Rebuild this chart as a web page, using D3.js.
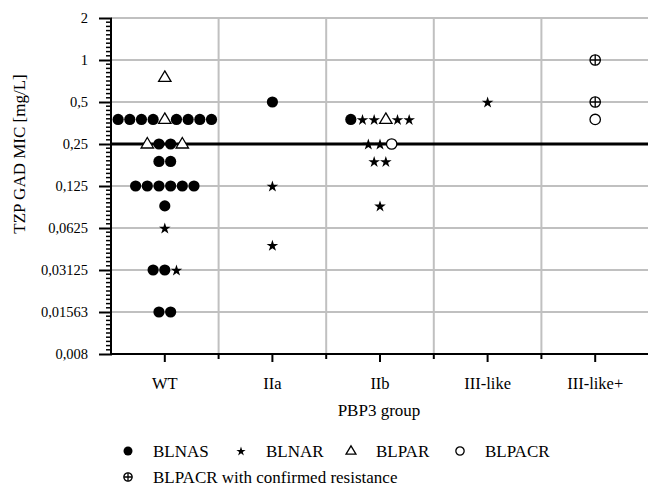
<!DOCTYPE html>
<html>
<head>
<meta charset="utf-8">
<script src="https://cdnjs.cloudflare.com/ajax/libs/d3/7.8.5/d3.min.js"></script>
<style>
  body { margin: 0; background: #fff; }
</style>
</head>
<body>
<div id="chart"></div>
<script>
// PBP3 groups on the x axis
var groups = ["WT", "IIa", "IIb", "III-like", "III-like+"];

// y axis ticks (log2)
var yTickValues = [1/128, 1/64, 1/32, 1/16, 1/8, 1/4, 1/2, 1, 2];
var yTickLabels = ["0,008", "0,01563", "0,03125", "0,0625", "0,125", "0,25", "0,5", "1", "2"];

// breakpoint line
var breakpoint = 0.25;

// each row: group, MIC value, markers side by side (left to right)
// C = BLNAS, S = BLNAR, T = BLPAR, O = BLPACR, X = BLPACR with confirmed resistance
var rowGroup = ["WT", "WT", "WT", "WT", "WT", "WT", "WT", "WT", "WT",
                "IIa", "IIa", "IIa",
                "IIb", "IIb", "IIb", "IIb",
                "III-like",
                "III-like+", "III-like+", "III-like+"];
var rowMic = [0.75, 0.375, 0.25, 0.1875, 0.125, 0.09, 0.0625, 0.03125, 0.015625,
              0.5, 0.125, 0.047,
              0.375, 0.25, 0.1875, 0.09,
              0.5,
              1, 0.5, 0.375];
var rowMarkers = ["T", "CCCCTCCCC", "TCCT", "CC", "CCCCCC", "C", "S", "CCS", "CC",
                  "C", "S", "S",
                  "CSSTSS", "SSO", "SS", "S",
                  "S",
                  "X", "X", "O"];

var legendCodes = ["C", "S", "T", "O", "X"];
var legendNames = ["BLNAS", "BLNAR", "BLPAR", "BLPACR", "BLPACR with confirmed resistance"];

var FONT = "'Liberation Serif', 'Times New Roman', Times, 'DejaVu Serif', serif";

function main() {
    var width = 648, height = 489;
    var left = 111, right = 649, top = 18, bottom = 354;
    var step = 11.67;

    var svg = d3.select("#chart").append("svg").attr("width", width).attr("height", height)
        .style("font-family", FONT);

    var x = d3.scaleBand().domain(groups).range([left, right]);
    var y = d3.scaleLog().base(2).domain([1/128, 2]).range([bottom, top]);

    // grid
    var grid = svg.append("g").attr("class", "grid");
    grid.selectAll("line.h").data(yTickValues).enter().append("line")
        .attr("x1", left).attr("x2", right)
        .attr("y1", function(d) { return y(d); }).attr("y2", function(d) { return y(d); })
        .attr("stroke", "#c0c0c0").attr("stroke-width", 2);
    grid.selectAll("line.v").data(groups.slice(1).concat(["end"])).enter().append("line")
        .attr("x1", function(d, i) { return left + x.step() * (i + 1); })
        .attr("x2", function(d, i) { return left + x.step() * (i + 1); })
        .attr("y1", top).attr("y2", bottom)
        .attr("stroke", "#c0c0c0").attr("stroke-width", 2);

    // breakpoint
    svg.append("line")
        .attr("x1", left).attr("x2", right)
        .attr("y1", y(breakpoint)).attr("y2", y(breakpoint))
        .attr("stroke", "#000").attr("stroke-width", 3);

    // y axis
    var yAxis = d3.axisLeft(y).tickValues(yTickValues)
        .tickFormat(function(d, i) { return yTickLabels[i]; })
        .tickSize(12).tickPadding(11);
    var gy = svg.append("g").attr("transform", "translate(" + left + ",0)").call(yAxis)
        .attr("font-family", null).attr("font-size", null);
    gy.select(".domain").attr("stroke-width", 2).attr("d", "M0," + (bottom + 1) + "V" + top);
    gy.selectAll(".tick line").attr("stroke-width", 2).attr("x2", -12).attr("x1", 1);
    gy.selectAll(".tick text").style("font-size", "14.5px").style("font-family", FONT);

    var minor = [];
    for (var k = -7; k < 1; k++) {
        for (var j = 1; j < 10; j++) minor.push(Math.pow(2, k + j / 10));
    }
    gy.selectAll("line.minor").data(minor).enter().append("line")
        .attr("x1", -5).attr("x2", 0)
        .attr("y1", function(d) { return y(d); }).attr("y2", function(d) { return y(d); })
        .attr("stroke", "#000").attr("stroke-width", 1.5);

    // x axis
    var xAxis = d3.axisBottom(x).tickSize(8).tickPadding(15);
    var gx = svg.append("g").attr("transform", "translate(0," + bottom + ")").call(xAxis)
        .attr("font-family", null).attr("font-size", null);
    gx.select(".domain").attr("stroke-width", 2).attr("d", "M" + (left - 1) + ",0H" + right);
    gx.selectAll(".tick line").attr("stroke-width", 2);
    gx.selectAll(".tick text").style("font-size", "16.5px").style("font-family", FONT);
    gx.selectAll("line.bnd").data(groups.slice(1)).enter().append("line")
        .attr("x1", function(d) { return x(d); }).attr("x2", function(d) { return x(d); })
        .attr("y1", 0).attr("y2", 5)
        .attr("stroke", "#000").attr("stroke-width", 2);

    // axis titles
    svg.append("text").attr("x", (left + right) / 2 - 1).attr("y", 416)
        .attr("text-anchor", "middle").style("font-size", "17px").style("font-family", FONT)
        .text("PBP3 group");
    svg.append("text").attr("transform", "translate(25,154) rotate(-90)")
        .attr("text-anchor", "middle").style("font-size", "17px").style("font-family", FONT)
        .text("TZP GAD MIC [mg/L]");

    // markers
    var points = [];
    rowMarkers.forEach(function(m, r) {
        var codes = m.split("");
        var cx = x(rowGroup[r]) + x.bandwidth() / 2;
        codes.forEach(function(c, i) {
            points.push({code: c, x: cx + (i - (codes.length - 1) / 2) * step, y: y(rowMic[r])});
        });
    });

    var plot = svg.append("g").attr("class", "points");
    plot.selectAll("g").data(points).enter().append("g")
        .attr("transform", function(d) { return "translate(" + d.x + "," + d.y + ")"; })
        .each(function(d) { drawMarker(d3.select(this), d.code, 1); });

    // legend
    var legX = [128, 241, 351, 460, 128];
    var legY = [451, 451, 451, 451, 477];
    var leg = svg.append("g").attr("class", "legend");
    legendCodes.forEach(function(c, i) {
        var g = leg.append("g").attr("transform", "translate(" + legX[i] + "," + legY[i] + ")");
        drawMarker(g, c, 0.8);
        g.append("text").attr("x", 25).attr("y", 6).style("font-size", "17px")
            .style("font-family", FONT).text(legendNames[i]);
    });
}

function drawMarker(g, code, s) {
    if (code === "C") {
        g.append("circle").attr("r", 5.6 * s).attr("fill", "#000");
    } else if (code === "S") {
        g.append("path").attr("d", d3.symbol(d3.symbolStar, 42 * s * s)()).attr("fill", "#000")
            .attr("transform", "translate(0," + (0.6 * s) + ")");
    } else if (code === "T") {
        g.append("path").attr("d", "M0," + (-6.5 * s) + "L" + (6.2 * s) + "," + (4 * s) + "L" + (-6.2 * s) + "," + (4 * s) + "Z")
            .attr("fill", "#fff").attr("stroke", "#000").attr("stroke-width", 1.3);
    } else if (code === "O") {
        g.append("circle").attr("r", 5.2 * s).attr("fill", "#fff").attr("stroke", "#000").attr("stroke-width", 1.3);
    } else if (code === "X") {
        var r = 5.2 * s;
        g.append("circle").attr("r", r).attr("fill", "#fff").attr("stroke", "#000").attr("stroke-width", 1.3);
        g.append("path").attr("d", "M" + (-r) + ",0H" + r + "M0," + (-r) + "V" + r)
            .attr("stroke", "#000").attr("stroke-width", 1.3);
    }
}

main();
</script>
</body>
</html>
